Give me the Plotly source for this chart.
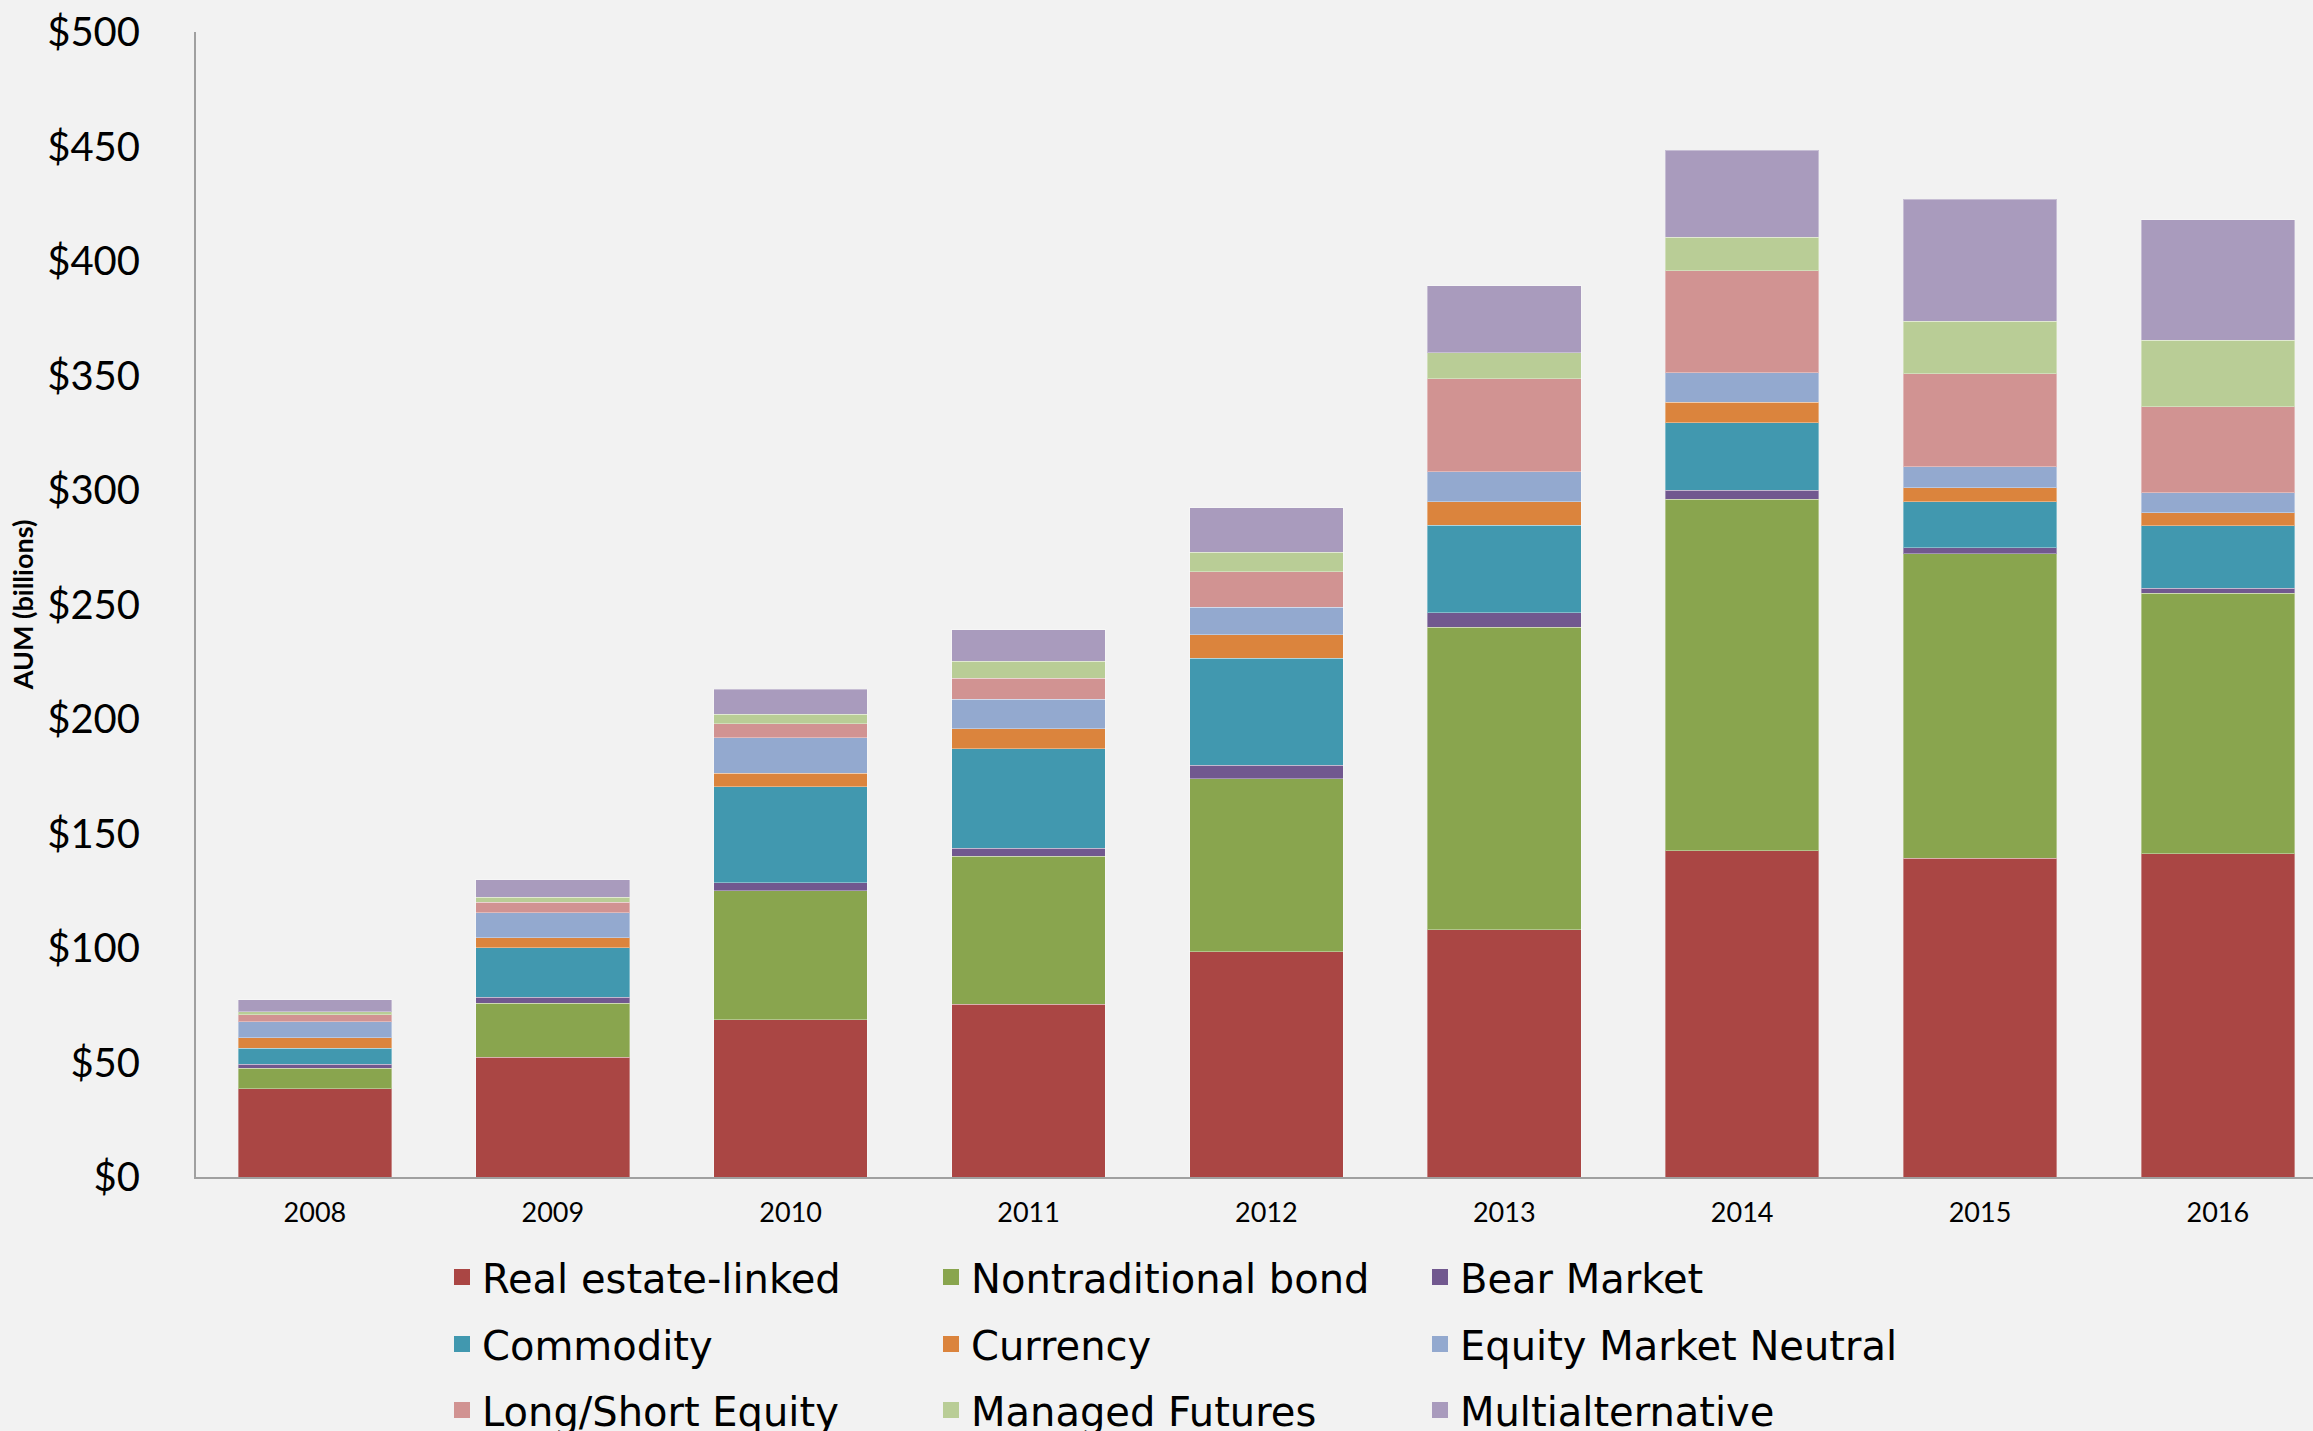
import plotly.graph_objects as go

years = ["2008", "2009", "2010", "2011", "2012", "2013", "2014", "2015", "2016"]

# AUM by category, $ billions (stacked bottom to top)
real_estate_linked = [38.5, 52.2, 68.7, 75.4, 98.3, 107.9, 142.4, 139.2, 141.1]
nontraditional_bond = [9.0, 23.7, 56.2, 64.7, 75.7, 132.1, 153.5, 133.0, 113.8]
bear_market = [1.7, 2.5, 3.7, 3.4, 5.9, 6.3, 4.1, 2.6, 2.3]
commodity = [7.0, 21.8, 41.8, 43.6, 46.7, 38.4, 29.4, 20.1, 27.1]
currency = [4.7, 4.3, 5.9, 8.7, 10.1, 10.1, 9.0, 6.1, 5.8]
equity_market_neutral = [7.0, 10.9, 15.5, 12.9, 12.2, 13.2, 12.7, 9.2, 8.8]
long_short_equity = [3.0, 4.5, 6.2, 9.0, 15.3, 40.5, 44.6, 40.5, 37.5]
managed_futures = [1.3, 2.3, 4.0, 7.6, 8.6, 11.5, 14.6, 23.0, 29.0]
multialternative = [5.2, 7.7, 11.0, 13.7, 19.5, 29.3, 38.0, 53.3, 52.7]

y_ticks = [0, 50, 100, 150, 200, 250, 300, 350, 400, 450, 500]

series = [
    ("Real estate-linked", real_estate_linked, "#AA4644", "legend"),
    ("Nontraditional bond", nontraditional_bond, "#89A54E", "legend"),
    ("Bear Market", bear_market, "#71588F", "legend"),
    ("Commodity", commodity, "#4198AF", "legend2"),
    ("Currency", currency, "#DB843D", "legend2"),
    ("Equity Market Neutral", equity_market_neutral, "#93A9CF", "legend2"),
    ("Long/Short Equity", long_short_equity, "#D19392", "legend3"),
    ("Managed Futures", managed_futures, "#B9CD96", "legend3"),
    ("Multialternative", multialternative, "#A99BBD", "legend3"),
]

W, H = 2313, 1431
fig = go.Figure()

# stacked bars (legend entries come from the square-marker keys below)
for name, vals, color, leg in series:
    fig.add_trace(go.Bar(
        x=years, y=vals, name=name, legendgroup=name, showlegend=False,
        marker=dict(color=color, line=dict(color="rgba(255,255,255,0.35)", width=1)),
    ))

# larger square legend keys
for name, vals, color, leg in series:
    fig.add_trace(go.Scatter(
        x=[None], y=[None], mode="markers", name=name, legendgroup=name, legend=leg,
        marker=dict(symbol="square", size=16, color=color),
        hoverinfo="skip",
    ))

legend_font = dict(family="'DejaVu Sans', sans-serif", size=40, color="#000000")
common_legend = dict(
    orientation="h", xref="container", yref="container",
    x=442 / W, xanchor="left", yanchor="middle",
    bgcolor="rgba(0,0,0,0)", font=legend_font,
    entrywidth=444, entrywidthmode="pixels", traceorder="normal",
    itemclick=False, itemdoubleclick=False,
)

fig.update_layout(
    width=W, height=H,
    barmode="stack", bargap=0.354,
    paper_bgcolor="#F2F2F2", plot_bgcolor="#F2F2F2",
    margin=dict(l=196, r=0, t=32, b=254),
    font=dict(family="Lato, 'Open Sans', sans-serif", color="#000000"),
    legend=dict(common_legend, y=1 - 1277 / H),
    legend2=dict(common_legend, y=1 - 1344 / H),
    legend3=dict(common_legend, y=1 - 1410 / H),
    showlegend=True,
    xaxis=dict(
        type="category", range=[-0.5, 8.4],
        showline=True, linecolor="#A0A0A0", linewidth=2,
        ticks="", showgrid=False, zeroline=False,
        tickfont=dict(family="Lato, sans-serif", size=27, color="#000000"),
        ticklabelstandoff=11,
    ),
    yaxis=dict(
        range=[0, 500], tickvals=y_ticks,
        ticktext=[f"${v}" for v in y_ticks],
        showline=True, linecolor="#A0A0A0", linewidth=2,
        ticks="", showgrid=False, zeroline=False,
        tickfont=dict(family="Lato, sans-serif", size=40, color="#000000"),
        ticklabelstandoff=46,
        title=dict(text="AUM (billions)", standoff=6,
                   font=dict(family="Lato, sans-serif", size=27, color="#000000", weight="bold")),
    ),
)

fig.write_html("out.html")
